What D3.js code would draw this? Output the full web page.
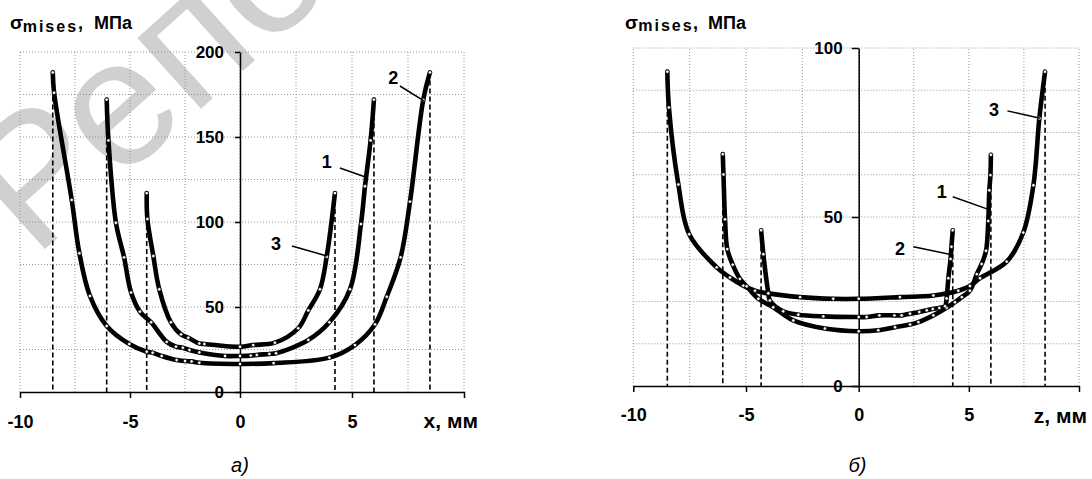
<!DOCTYPE html>
<html>
<head>
<meta charset="utf-8">
<script src="https://cdn.jsdelivr.net/npm/d3@7/dist/d3.min.js"></script>
<style>
  html, body { margin: 0; padding: 0; background: #fff; }
  svg { display: block; }
  text { font-family: "Liberation Sans", Arial, sans-serif; }
</style>
</head>
<body>
<svg id="chart" width="1092" height="479"></svg>
<script>
// ---------------- DATA ----------------
const xTickValues = [-10, -5, 0, 5, 10];
const xTickLabels = ["-10", "-5", "0", "5", ""];
const yTicksA = [0, 50, 100, 150, 200];
const yTicksB = [0, 50, 100];

// panel а) : sigma vs x, mm
const aCurve1 = [[-6.06,172],[-5.98,148],[-5.64,99.6],[-5.27,79.2],[-4.95,58.5],[-4.55,47.3],[-4.04,41],[-3.33,29.5],[-2.91,26.7],[-2.6,26],[-2.3,24.7],[-1.85,23.3],[-0.68,21.2],[0,21.2],[0.48,21.4],[0.75,21.8],[1.31,22.4],[1.61,22.8],[3.05,30.6],[3.99,41],[4.91,60.4],[5.4,98.8],[5.58,121],[5.83,148],[5.98,172]];
const aCurve2 = [[-8.51,188],[-8.45,176],[-7.65,113],[-7.3,81.6],[-6.82,56.5],[-6.06,38.8],[-5.03,28.2],[-4.24,23.7],[-3.97,23.1],[-3.56,21.2],[-2.88,18.8],[-2.5,18.2],[-2.2,18],[-1.85,17.2],[0,16.5],[1.5,17],[3.99,20.2],[5.13,27.6],[6.03,39.8],[6.55,56],[7.17,79.2],[7.59,112],[8.18,171.8],[8.48,188]];
const aCurve3 = [[-4.24,117],[-4.21,101.8],[-3.94,80],[-3.67,60.4],[-3.14,41],[-2.68,33.9],[-2.35,31.9],[-1.85,28.6],[-1.62,28.2],[0,26.6],[0.59,27.6],[1.56,29],[2.6,37.5],[3.05,48],[3.57,60.4],[3.87,79.6],[4.24,117]];
const aLabels = [
  {text: "1", at: [3.87,135.5], from: [4.46,131.8], to: [5.6,126.5]},
  {text: "2", at: [6.84,184.9], from: [7.14,180], to: [8.21,171.2]},
  {text: "3", at: [1.61,87.5],  from: [2.32,85.9], to: [3.88,80]}
];

// panel б) : sigma vs z, mm
const bCurve1 = [[-6.03,68.6],[-6.0,62.6],[-5.93,49.3],[-5.83,40.5],[-5.59,35.9],[-5.27,31.7],[-4.97,29.5],[-4.45,25.8],[-3.79,23.3],[-2.9,19.4],[-1.5,17],[0,16.2],[0.89,16.5],[1.65,17.4],[2.33,18.2],[2.71,18.9],[3.39,20.9],[3.99,23.1],[4.37,24.8],[4.68,26.3],[5.05,28.2],[5.36,33.1],[5.58,36.1],[5.78,40],[5.88,48.8],[5.93,57.9],[5.98,62.4],[6.0,68.4]];
const bCurve2 = [[-4.33,46.1],[-4.23,39],[-4.01,27.5],[-3.94,25.3],[-3.35,22.1],[-2.68,21.1],[-1.57,20.6],[0,20.4],[0.36,20.4],[0.94,20.9],[1.62,20.9],[1.95,20.9],[2.33,21.4],[2.75,21.9],[3.09,22.4],[3.36,22.8],[3.66,23.1],[3.92,23.6],[3.99,25.9],[4.07,31.9],[4.17,37.6],[4.21,41.2],[4.27,46.1]];
const bCurve3 = [[-8.49,93],[-8.42,82.4],[-8.0,59.6],[-7.52,44.9],[-6.3,35.1],[-5.71,32.1],[-5.12,29.7],[-4.6,28.2],[-4.01,27.4],[-2.6,26.3],[-1.13,25.8],[0,25.8],[1.87,26.3],[3.39,26.8],[4.52,28.2],[5.05,29.6],[5.51,31.9],[6.72,36.8],[7.47,45.4],[7.93,59.4],[8.2,79.2],[8.46,93]];
const bLabels = [
  {text: "1", at: [3.77,57.5], from: [4.27,56], to: [5.82,52.4]},
  {text: "2", at: [1.87,40.7], from: [2.48,41.2], to: [4.12,39]},
  {text: "3", at: [6.14,81.7], from: [6.75,81.4], to: [8.23,79.2]}
];

// ---------------- DRAW ----------------
const svg = d3.select("#chart");

// watermark (scan overlay)
svg.append("text")
  .attr("transform", "translate(34,259) rotate(-42)")
  .attr("font-size", 180)
  .attr("fill", "#d0d0d0")
  .text("Репо");

const panels = [
  {
    curves: [aCurve1, aCurve2, aCurve3], labels: aLabels,
    x: d3.scaleLinear().domain([-10, 0, 10]).range([20, 240, 464]),
    y: d3.scaleLinear().domain([0, 200]).range([392, 52]),
    yTicks: yTicksA, yGridStep: 25, yMax: 200,
    xPad: 17, yTickSize: 5, yPad: 11,
    axisName: "x, мм", axisNameY: 428, axisNameX: 478,
    title: {sx: 10, mx: 22.7, cx: 78, ux: 94, base: 29},
    sub: "а)", subX: 240, subY: 472
  },
  {
    curves: [bCurve1, bCurve2, bCurve3], labels: bLabels,
    x: d3.scaleLinear().domain([-10, 0, 10]).range([633.3, 858.7, 1079]),
    y: d3.scaleLinear().domain([0, 100]).range([386, 48]),
    yTicks: yTicksB, yGridStep: 12.5, yMax: 100,
    xPad: 16, yTickSize: 7, yPad: 9,
    axisName: "z, мм", axisNameY: 422.5, axisNameX: 1087,
    title: {sx: 625, mx: 638.3, cx: 693, ux: 708, base: 28.5},
    sub: "б)", subX: 857.5, subY: 472
  }
];

panels.forEach(p => {
  const g = svg.append("g");
  const x = p.x, y = p.y;

  // grid
  const grid = g.append("g").attr("stroke", "#8a8a8a").attr("stroke-width", 0.9)
    .attr("stroke-dasharray", "1,2");
  d3.range(-10, 10.001, 2.5).forEach(v => {
    grid.append("line").attr("x1", x(v)).attr("x2", x(v)).attr("y1", y(0)).attr("y2", y(p.yMax));
  });
  d3.range(p.yGridStep, p.yMax + 0.001, p.yGridStep).forEach(v => {
    grid.append("line").attr("x1", x(-10)).attr("x2", x(10)).attr("y1", y(v)).attr("y2", y(v));
  });

  // dashed verticals at curve ends
  const dash = g.append("g").attr("stroke", "#000").attr("stroke-width", 1.6)
    .attr("stroke-dasharray", "5,3");
  p.curves.forEach(c => {
    [c[0], c[c.length - 1]].forEach(pt => {
      dash.append("line").attr("x1", x(pt[0])).attr("x2", x(pt[0]))
        .attr("y1", y(pt[1])).attr("y2", y(0));
    });
  });

  // axes
  const xAxis = d3.axisBottom(x).tickValues(xTickValues).tickSize(6).tickSizeOuter(0)
    .tickPadding(p.xPad).tickFormat((d, i) => xTickLabels[i]);
  const gx = g.append("g").attr("transform", `translate(0,${y(0)})`).call(xAxis);
  const yAxis = d3.axisLeft(y).tickValues(p.yTicks).tickSize(p.yTickSize).tickSizeOuter(0)
    .tickPadding(p.yPad).tickFormat(d => String(d));
  const gy = g.append("g").attr("transform", `translate(${x(0)},0)`).call(yAxis);
  [gx, gy].forEach(a => {
    a.selectAll("path, line").attr("stroke", "#000").attr("stroke-width", 1.5);
    a.selectAll("text").attr("fill", "#000").attr("font-weight", "bold")
      .attr("font-family", '"Liberation Sans", Arial, sans-serif');
  });
  gx.selectAll("text").attr("font-size", 18);
  gy.selectAll("text").attr("font-size", 17);

  // curves
  const line = d3.line().x(d => x(d[0])).y(d => y(d[1])).curve(d3.curveCatmullRom.alpha(0.5));
  p.curves.forEach(c => {
    g.append("path").datum(c).attr("d", line).attr("fill", "none")
      .attr("stroke", "#000").attr("stroke-width", 4.6).attr("stroke-linejoin", "round")
      .attr("stroke-linecap", "round");
  });
  p.curves.forEach(c => {
    g.append("g").selectAll("circle").data(c).join("circle")
      .attr("cx", d => x(d[0])).attr("cy", d => y(d[1])).attr("r", 1.7)
      .attr("fill", "#fff").attr("stroke", "#000").attr("stroke-width", 0.6);
  });

  // curve labels with leaders
  p.labels.forEach(l => {
    g.append("line").attr("x1", x(l.from[0])).attr("y1", y(l.from[1]))
      .attr("x2", x(l.to[0])).attr("y2", y(l.to[1]))
      .attr("stroke", "#000").attr("stroke-width", 1.5);
    g.append("text").attr("x", x(l.at[0])).attr("y", y(l.at[1])).attr("dy", "0.36em")
      .attr("text-anchor", "middle").attr("font-size", 18).attr("font-weight", "bold")
      .text(l.text);
  });

  // axis name
  g.append("text").attr("x", p.axisNameX).attr("y", p.axisNameY).attr("text-anchor", "end")
    .attr("font-size", 21).attr("font-weight", "bold").text(p.axisName);

  // title σ mises, МПа
  const t = p.title;
  g.append("text").attr("x", t.sx).attr("y", t.base).attr("font-size", 19).attr("font-weight", "bold").text("σ");
  g.append("text").attr("x", t.mx).attr("y", t.base + 2.7).attr("font-size", 16).attr("font-weight", "bold")
    .attr("letter-spacing", 2).text("mises");
  g.append("text").attr("x", t.cx).attr("y", t.base).attr("font-size", 18).attr("font-weight", "bold").text(",");
  g.append("text").attr("x", t.ux).attr("y", t.base).attr("font-size", 18).attr("font-weight", "bold").text("МПа");

  // subtitle
  g.append("text").attr("x", p.subX).attr("y", p.subY).attr("text-anchor", "middle")
    .attr("font-family", '"Liberation Serif", "Times New Roman", serif').attr("font-style", "italic")
    .attr("font-size", 20).text(p.sub);
});
</script>
</body>
</html>
